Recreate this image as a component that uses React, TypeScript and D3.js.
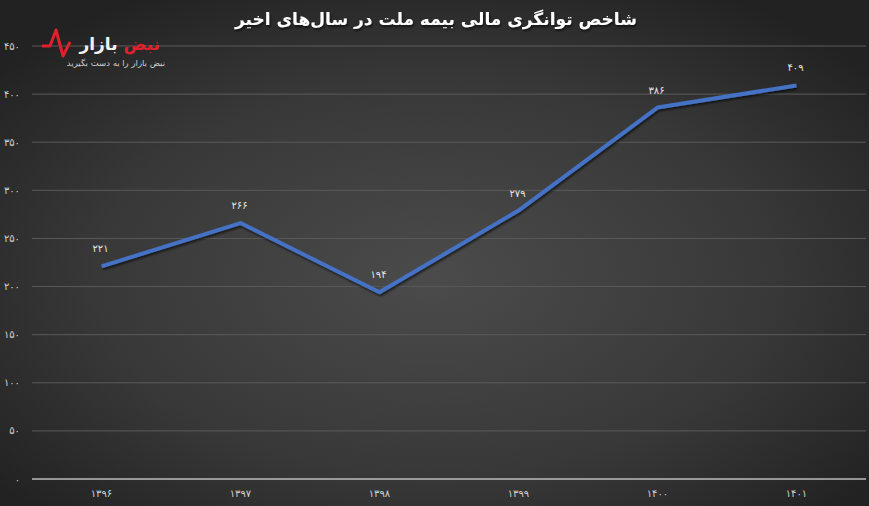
import React from "react";
import * as d3 from "d3";

const categories = ["۱۳۹۶", "۱۳۹۷", "۱۳۹۸", "۱۳۹۹", "۱۴۰۰", "۱۴۰۱"];
const values = [221, 266, 194, 279, 386, 409];
const yTicks = [0, 50, 100, 150, 200, 250, 300, 350, 400, 450];
const title = "شاخص توانگری مالی بیمه ملت در سال‌های اخیر";

const toFa = (n: number) =>
  String(n).replace(/\d/g, (d) => "۰۱۲۳۴۵۶۷۸۹"[+d]);

const W = 869;
const H = 506;
const left = 32;
const right = 866;
const top = 46;
const bottom = 479;
const FONT = "'DejaVu Sans', sans-serif";

export default function App() {
  const x = d3.scaleBand<string>().domain(categories).range([left, right]).padding(0);
  const y = d3.scaleLinear().domain([0, 450]).range([bottom, top]);
  const cx = (c: string) => (x(c) as number) + x.bandwidth() / 2;
  const line = d3
    .line<number>()
    .x((_, i) => cx(categories[i]))
    .y((v) => y(v));

  return (
    <svg
      width={W}
      height={H}
      style={{ position: "absolute", left: 0, top: 0, display: "block" }}
    >
      <defs>
        <radialGradient id="bg" cx="50%" cy="55%" r="65%">
          <stop offset="0%" stopColor="#4b4b4b" />
          <stop offset="60%" stopColor="#383838" />
          <stop offset="100%" stopColor="#222222" />
        </radialGradient>
        <filter id="shadow" x="-10%" y="-10%" width="120%" height="130%">
          <feDropShadow dx="1" dy="2" stdDeviation="1" floodColor="#000" floodOpacity="0.6" />
        </filter>
      </defs>
      <rect x={0} y={0} width={W} height={H} fill="url(#bg)" />

      {/* grid lines */}
      {yTicks.map((t) => (
        <line
          key={t}
          x1={left}
          x2={right}
          y1={y(t)}
          y2={y(t)}
          stroke={t === 0 ? "#bdbdbd" : "#5a5a5a"}
          strokeWidth={t === 0 ? 1.5 : 1}
        />
      ))}

      {/* y tick labels */}
      {yTicks.map((t) => (
        <text
          key={"yl" + t}
          x={20}
          y={y(t)}
          dy="0.35em"
          textAnchor="end"
          fontFamily={FONT}
          fontSize={10}
          fill="#d0d0d0"
        >
          {toFa(t)}
        </text>
      ))}

      {/* x labels */}
      {categories.map((c) => (
        <text
          key={"xl" + c}
          x={cx(c)}
          y={497}
          textAnchor="middle"
          fontFamily={FONT}
          fontSize={10}
          fill="#d0d0d0"
        >
          {c}
        </text>
      ))}

      {/* line */}
      <path
        d={line(values) || ""}
        fill="none"
        stroke="#4472c4"
        strokeWidth={4}
        strokeLinejoin="round"
        filter="url(#shadow)"
      />

      {/* data labels */}
      {values.map((v, i) => (
        <text
          key={"dl" + i}
          x={cx(categories[i]) - 1}
          y={y(v) - 14}
          textAnchor="middle"
          fontFamily={FONT}
          fontSize={10}
          fill="#e6e6e6"
        >
          {toFa(v)}
        </text>
      ))}

      {/* title */}
      <text
        x={436}
        y={25}
        textAnchor="middle"
        fontFamily={FONT}
        fontWeight="bold"
        fontSize={17}
        fill="#ffffff"
        filter="url(#shadow)"
      >
        {title}
      </text>

      {/* logo */}
      <g>
        <path
          d="M42,46 L50,46 L56,30 L63,56 L70,42"
          fill="none"
          stroke="#e0202a"
          strokeWidth={3}
          strokeLinejoin="round"
        />
        <text
          x={160}
          y={50}
          textAnchor="start"
          fontFamily={FONT}
          fontWeight="bold"
          fontSize={17}
          direction="rtl"
        >
          <tspan fill="#e0202a">نبض</tspan>
          <tspan fill="#f2f2f2"> بازار</tspan>
        </text>
        <text
          x={165}
          y={66}
          textAnchor="end"
          fontFamily={FONT}
          fontSize={8.5}
          fill="#cfcfcf"
        >
          نبض بازار را به دست بگیرید
        </text>
      </g>
    </svg>
  );
}
